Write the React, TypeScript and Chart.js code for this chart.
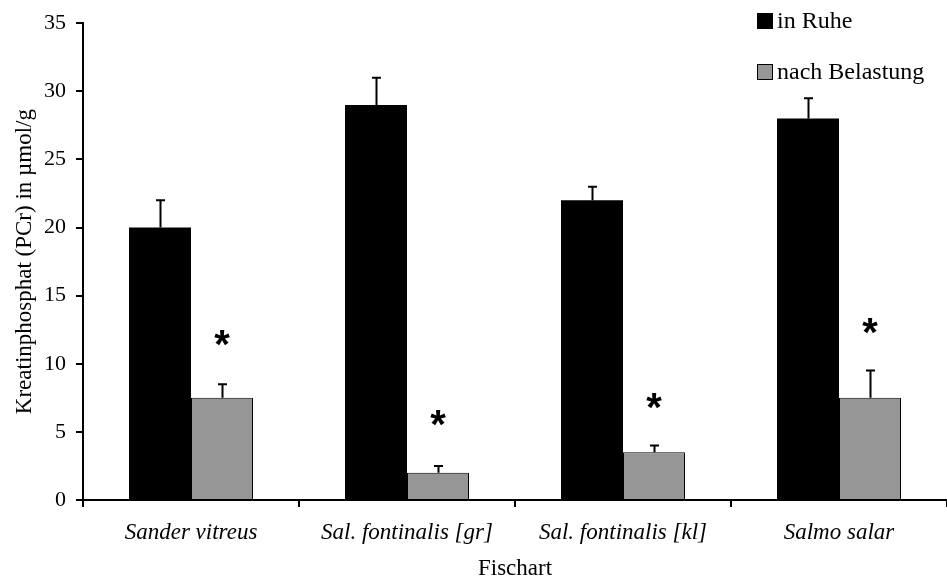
import React, { useEffect, useRef } from "react";
import { Chart, registerables } from "chart.js";

Chart.register(...registerables);

const categories = ["Sander vitreus", "Sal. fontinalis [gr]", "Sal. fontinalis [kl]", "Salmo salar"];
const seriesNames = ["in Ruhe", "nach Belastung"];
const restValues = [20, 29, 22, 28];
const restErrors = [2, 2, 1, 1.5];
const loadValues = [7.5, 2, 3.5, 7.5];
const loadErrors = [1, 0.5, 0.5, 2];
const asteriskValues = [11.9, 6.0, 7.3, 12.8];
const yTicks = [0, 5, 10, 15, 20, 25, 30, 35];

const SERIF = "'Liberation Serif', 'Times New Roman', serif";

const overlayPlugin = {
  id: "overlay",
  afterDatasetsDraw(chart: any) {
    const ctx = chart.ctx;
    const y = chart.scales.y;
    const errs = [restErrors, loadErrors];
    ctx.save();
    ctx.strokeStyle = "#000";
    ctx.lineWidth = 2;
    chart.data.datasets.forEach((ds: any, di: number) => {
      const meta = chart.getDatasetMeta(di);
      meta.data.forEach((bar: any, i: number) => {
        const v = ds.data[i];
        const top = y.getPixelForValue(v + errs[di][i]);
        const base = y.getPixelForValue(v);
        const x = Math.round(bar.x) + 0.5;
        ctx.beginPath();
        ctx.moveTo(x, base);
        ctx.lineTo(x, top);
        ctx.moveTo(x - 4.5, top);
        ctx.lineTo(x + 4.5, top);
        ctx.stroke();
      });
    });
    // asterisks
    const meta1 = chart.getDatasetMeta(1);
    ctx.fillStyle = "#000";
    ctx.font = "bold 40px 'Liberation Sans', Arial, sans-serif";
    ctx.textAlign = "center";
    ctx.textBaseline = "alphabetic";
    const m = ctx.measureText("*");
    const asc = m.actualBoundingBoxAscent;
    const desc = m.actualBoundingBoxDescent;
    meta1.data.forEach((bar: any, i: number) => {
      const cy = y.getPixelForValue(asteriskValues[i]);
      ctx.fillText("*", bar.x, cy + (asc - desc) / 2);
    });
    ctx.restore();
  },
  afterDraw(chart: any) {
    const ctx = chart.ctx;
    ctx.save();
    const items = [
      { y: 13, color: "#000000" },
      { y: 64, color: "#969696" },
    ];
    ctx.font = `24px ${SERIF}`;
    ctx.textAlign = "left";
    ctx.textBaseline = "alphabetic";
    items.forEach((it, i) => {
      ctx.fillStyle = it.color;
      ctx.fillRect(757, it.y, 16, 16);
      ctx.strokeStyle = "#000";
      ctx.lineWidth = 1;
      ctx.strokeRect(757.5, it.y + 0.5, 15, 15);
      ctx.fillStyle = "#000";
      ctx.fillText(seriesNames[i], 777, it.y + 15);
    });
    ctx.restore();
  },
};

export default function App() {
  const ref = useRef<HTMLCanvasElement | null>(null);
  useEffect(() => {
    document.body.style.margin = "0";
    const canvas = ref.current!;
    const chart = new Chart(canvas, {
      type: "bar",
      data: {
        labels: categories,
        datasets: [
          {
            label: seriesNames[0],
            data: restValues,
            backgroundColor: "#000000",
            borderColor: "#000000",
            borderWidth: 0,
          },
          {
            label: seriesNames[1],
            data: loadValues,
            backgroundColor: "#969696",
            borderColor: "#000000",
            borderWidth: 1,
          },
        ],
      },
      options: {
        responsive: false,
        animation: false,
        layout: { padding: { top: 23, right: 0, left: 0, bottom: 0 } },
        plugins: {
          legend: { display: false },
          tooltip: { enabled: false },
        },
        datasets: {
          bar: { categoryPercentage: 0.574, barPercentage: 1.0 },
        },
        scales: {
          x: {
            grid: {
              display: true,
              drawOnChartArea: false,
              drawTicks: true,
              tickLength: 7,
              offset: true,
              color: "#000",
              lineWidth: 2,
            },
            border: { display: true, color: "#000", width: 2 },
            ticks: {
              color: "#000",
              padding: 12,
              maxRotation: 0,
              autoSkip: false,
              font: { family: SERIF, size: 23, style: "italic" },
            },
            title: {
              display: true,
              text: "Fischart",
              color: "#000",
              font: { family: SERIF, size: 23, lineHeight: 1 },
              padding: { top: 0, bottom: 0 },
            },
            afterFit(scale: any) {
              scale.height = 80;
            },
          },
          y: {
            min: 0,
            max: 35,
            afterBuildTicks(scale: any) {
              scale.ticks = yTicks.map((v) => ({ value: v }));
            },
            grid: {
              display: true,
              drawOnChartArea: false,
              drawTicks: true,
              tickLength: 7,
              color: "#000",
              lineWidth: 2,
            },
            border: { display: true, color: "#000", width: 2 },
            ticks: {
              color: "#000",
              padding: 10,
              font: { family: SERIF, size: 22 },
            },
            title: {
              display: true,
              text: "Kreatinphosphat (PCr) in µmol/g",
              color: "#000",
              font: { family: SERIF, size: 23, lineHeight: 1 },
              padding: { top: 13, bottom: 0 },
            },
            afterFit(scale: any) {
              scale.width = 83;
            },
          },
        },
      },
      plugins: [overlayPlugin],
    });
    return () => chart.destroy();
  }, []);
  return (
    <div style={{ width: 947, height: 580 }}>
      <canvas ref={ref} width={947} height={580} style={{ display: "block" }} />
    </div>
  );
}
